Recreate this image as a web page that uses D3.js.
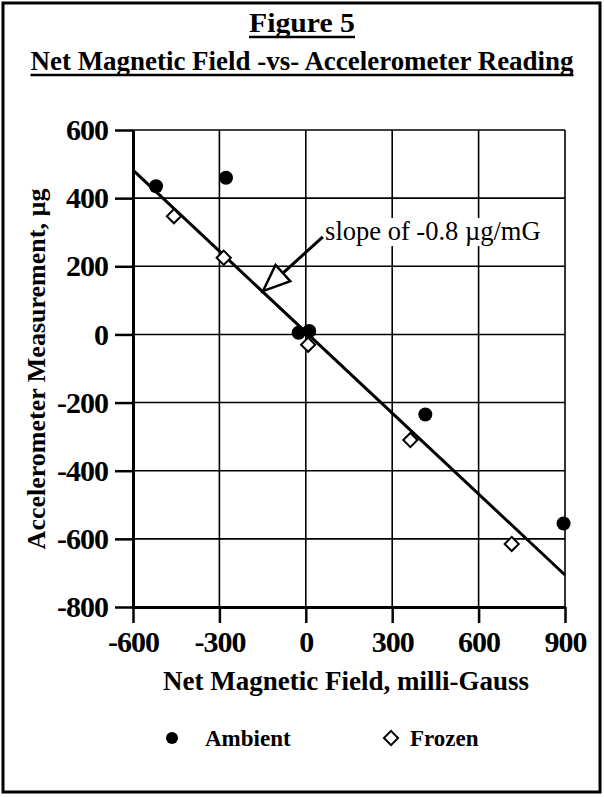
<!DOCTYPE html>
<html>
<head>
<meta charset="utf-8">
<script src="https://cdn.jsdelivr.net/npm/d3@7"></script>
<style>
  html, body { margin: 0; padding: 0; background: #fff; }
  svg text { font-family: "Liberation Serif", "Times New Roman", serif; fill: #000; }
</style>
</head>
<body>
<div id="chart"></div>
<script>
// values
const xTicks = [-600, -300, 0, 300, 600, 900];
const yTicks = [-800, -600, -400, -200, 0, 200, 400, 600];

const ambientX = [-520, -277, -25, 12, 415, 895];
const ambientY = [435, 460, 5, 10, -235, -555];

const frozenX = [-458, -285, 8, 363, 715];
const frozenY = [347, 225, -30, -310, -615];

// fitted line, slope about -0.8 ug/mG
const fitX = [-600, 900];
const fitY = [482, -706];

const slopeLabel = "slope of -0.8 \u00b5g/mG";
const labelAt = [67, 277];
const arrowFrom = [59, 286];
const arrowTo = [-149, 127];

document.addEventListener('DOMContentLoaded', function () {
    const W = 604, H = 797;
    const plot = { left: 133, right: 565, top: 130, bottom: 607 };

    const svg = d3.select("#chart").append("svg")
        .attr("width", W)
        .attr("height", H);

    // outer frame
    svg.append("rect")
        .attr("x", 3).attr("y", 3)
        .attr("width", 597).attr("height", 789)
        .attr("fill", "none")
        .attr("stroke", "#000")
        .attr("stroke-width", 3);

    // titles, underlined
    function title(txt, y, size, len) {
        const t = svg.append("text")
            .attr("x", W / 2).attr("y", y)
            .attr("text-anchor", "middle")
            .style("font-size", size + "px")
            .style("font-weight", "bold")
            .text(txt);
        if (len) t.attr("textLength", len).attr("lengthAdjust", "spacingAndGlyphs");
        const w = len || t.node().getComputedTextLength();
        svg.append("line")
            .attr("x1", W / 2 - w / 2).attr("x2", W / 2 + w / 2)
            .attr("y1", y + 5).attr("y2", y + 5)
            .attr("stroke", "#000").attr("stroke-width", 2.5);
    }
    title("Figure 5", 32, 28, 106);
    title("Net Magnetic Field -vs- Accelerometer Reading", 70, 27, 543);

    const x = d3.scaleLinear().domain([-600, 900]).range([plot.left, plot.right]);
    const y = d3.scaleLinear().domain([-800, 600]).range([plot.bottom, plot.top]);

    // grid
    const grid = svg.append("g").attr("stroke", "#000").attr("stroke-width", 1.6);
    grid.selectAll(".gx").data(xTicks).join("line")
        .attr("x1", d => x(d)).attr("x2", d => x(d))
        .attr("y1", plot.top).attr("y2", plot.bottom);
    grid.selectAll(".gy").data(yTicks).join("line")
        .attr("x1", plot.left).attr("x2", plot.right)
        .attr("y1", d => y(d)).attr("y2", d => y(d));

    const fmt = d => String(d);
    const xAxis = d3.axisBottom(x).tickValues(xTicks).tickFormat(fmt)
        .tickSize(16).tickPadding(8).tickSizeOuter(0);
    const yAxis = d3.axisLeft(y).tickValues(yTicks).tickFormat(fmt)
        .tickSize(18).tickPadding(7).tickSizeOuter(0);

    const gx = svg.append("g")
        .attr("transform", `translate(0,${plot.bottom})`)
        .call(xAxis);
    const gy = svg.append("g")
        .attr("transform", `translate(${plot.left},0)`)
        .call(yAxis);

    [gx, gy].forEach(g => {
        g.select(".domain").attr("stroke", "#000").attr("stroke-width", 3);
        g.selectAll(".tick line").attr("stroke", "#000").attr("stroke-width", 2.5);
        g.selectAll(".tick text")
            .style("font-family", '"Liberation Serif", serif')
            .style("font-size", "30px")
            .style("font-weight", "bold")
            .style("letter-spacing", "-1px")
            .attr("fill", "#000");
    });

    // axis titles
    svg.append("text")
        .attr("x", 346).attr("y", 690)
        .attr("text-anchor", "middle")
        .style("font-size", "27px").style("font-weight", "bold")
        .text("Net Magnetic Field, milli-Gauss");

    svg.append("text")
        .attr("transform", `translate(45,369) rotate(-90)`)
        .attr("text-anchor", "middle")
        .style("font-size", "26px").style("font-weight", "bold")
        .text("Accelerometer Measurement, \u00b5g");

    // fitted line
    svg.append("line")
        .attr("x1", x(fitX[0])).attr("y1", y(fitY[0]))
        .attr("x2", x(fitX[1])).attr("y2", y(fitY[1]))
        .attr("stroke", "#000").attr("stroke-width", 3);

    const diamond = d3.symbol().type(d3.symbolSquare).size(100);

    // ambient points
    svg.append("g").selectAll("circle")
        .data(d3.zip(ambientX, ambientY))
        .join("circle")
        .attr("cx", d => x(d[0])).attr("cy", d => y(d[1]))
        .attr("r", 7)
        .attr("fill", "#000");

    // frozen points
    svg.append("g").selectAll("path")
        .data(d3.zip(frozenX, frozenY))
        .join("path")
        .attr("d", diamond)
        .attr("transform", d => `translate(${x(d[0])},${y(d[1])}) rotate(45)`)
        .attr("fill", "#fff")
        .attr("stroke", "#000")
        .attr("stroke-width", 2);

    // annotation with white backing over the grid
    const bg = svg.append("rect").attr("fill", "#fff");
    const lab = svg.append("text")
        .attr("x", x(labelAt[0])).attr("y", y(labelAt[1]))
        .style("font-size", "26.5px")
        .text(slopeLabel);
    const bb = lab.node().getBBox();
    bg.attr("x", bb.x - 3).attr("y", bb.y + 2)
        .attr("width", bb.width + 6).attr("height", bb.height - 2);

    const ax0 = x(arrowFrom[0]), ay0 = y(arrowFrom[1]);
    const ax1 = x(arrowTo[0]), ay1 = y(arrowTo[1]);
    const len = Math.hypot(ax1 - ax0, ay1 - ay0);
    const ux = (ax1 - ax0) / len, uy = (ay1 - ay0) / len;
    const headL = 27, headW = 11;
    const bx = ax1 - headL * ux, by = ay1 - headL * uy;
    svg.append("line")
        .attr("x1", ax0).attr("y1", ay0).attr("x2", bx).attr("y2", by)
        .attr("stroke", "#000").attr("stroke-width", 3);
    svg.append("path")
        .attr("d", d3.line()([
            [ax1, ay1],
            [bx + headW * uy, by - headW * ux],
            [bx - headW * uy, by + headW * ux]
        ]) + "Z")
        .attr("fill", "#fff")
        .attr("stroke", "#000")
        .attr("stroke-width", 2.5);

    // legend
    svg.append("circle")
        .attr("cx", 172).attr("cy", 738).attr("r", 6)
        .attr("fill", "#000");
    svg.append("text")
        .attr("x", 205).attr("y", 746)
        .style("font-size", "23px").style("font-weight", "bold")
        .text("Ambient");
    svg.append("path")
        .attr("d", diamond)
        .attr("transform", "translate(391,738) rotate(45)")
        .attr("fill", "#fff").attr("stroke", "#000").attr("stroke-width", 2);
    svg.append("text")
        .attr("x", 410).attr("y", 746)
        .style("font-size", "23px").style("font-weight", "bold")
        .text("Frozen");
});
</script>
</body>
</html>
